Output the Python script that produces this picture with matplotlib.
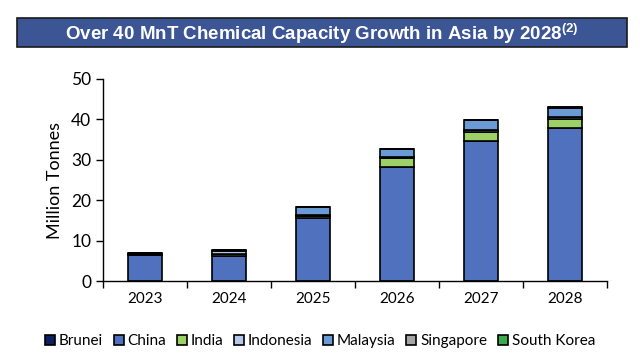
import numpy as np
import matplotlib.pyplot as plt
from matplotlib.patches import Rectangle

years = ['2023', '2024', '2025', '2026', '2027', '2028']
brunei = [0, 0, 0, 0, 0, 0]
china = [6.4, 6.1, 15.6, 28.2, 34.7, 37.9]
india = [0, 0.7, 0.5, 2.2, 2.1, 2.1]
indonesia = [0.3, 0.6, 0.3, 0.4, 0.5, 0.5]
malaysia = [0.3, 0.3, 1.9, 2.0, 2.5, 2.2]
singapore = [0, 0, 0, 0, 0, 0.3]
south_korea = [0, 0, 0, 0, 0, 0]

series = [
    ('Brunei', brunei, '#0c2160'),
    ('China', china, '#4f71be'),
    ('India', india, '#9dd067'),
    ('Indonesia', indonesia, '#b5c8e8'),
    ('Malaysia', malaysia, '#6b9bd7'),
    ('Singapore', singapore, '#a5a5a5'),
    ('South Korea', south_korea, '#3da94e'),
]

plt.rcParams['font.family'] = ['Lato', 'DejaVu Sans']
plt.rcParams['mathtext.fontset'] = 'custom'
plt.rcParams['mathtext.bf'] = 'Liberation Sans:bold'

fig = plt.figure(figsize=(6.4, 3.59), dpi=100)
ax = fig.add_axes([0.161, 0.217, 0.787, 0.563])

x = np.arange(len(years))
bottom = np.zeros(len(years))
for name, vals, color in series:
    ax.bar(x, vals, 0.41, bottom=bottom, color=color, edgecolor='black',
           linewidth=1.2, label=name)
    bottom += np.array(vals)

ax.set_xlim(-0.5, len(years) - 0.5)
ax.set_ylim(0, 50)
ax.set_yticks(range(0, 51, 10))
ax.set_xticks(x)
ax.set_xticklabels(years)
ax.set_xticks(np.arange(-0.5, len(years), 1), minor=True)
ax.tick_params(axis='x', which='major', length=0, pad=8, labelsize=11)
ax.tick_params(axis='x', which='minor', length=5, width=1, color='black')
ax.tick_params(axis='y', length=5, width=1, labelsize=12.5)
for s in ['top', 'right']:
    ax.spines[s].set_visible(False)
for s in ['left', 'bottom']:
    ax.spines[s].set_linewidth(1)
ax.set_ylabel('Million Tonnes', fontsize=13, labelpad=6)

# title banner
fig.patches.append(Rectangle((0.027, 0.868), 0.953, 0.083, transform=fig.transFigure,
                             facecolor='#3b5595', edgecolor='#1a1a1a', linewidth=1.2))
fig.text(0.503, 0.907, r'Over 40 MnT Chemical Capacity Growth in Asia by 2028$^{\mathbf{(2)}}$',
         ha='center', va='center', color='white', fontsize=13.5, fontweight='bold',
         family=['Liberation Sans', 'DejaVu Sans'])

handles, labels = ax.get_legend_handles_labels()
fig.legend(handles, labels, loc='center', bbox_to_anchor=(0.5, 0.05), ncol=7,
           frameon=False, fontsize=11, handlelength=0.65, handleheight=0.65,
           handletextpad=0.25, columnspacing=0.7)

fig.savefig('out.png', dpi=100)
